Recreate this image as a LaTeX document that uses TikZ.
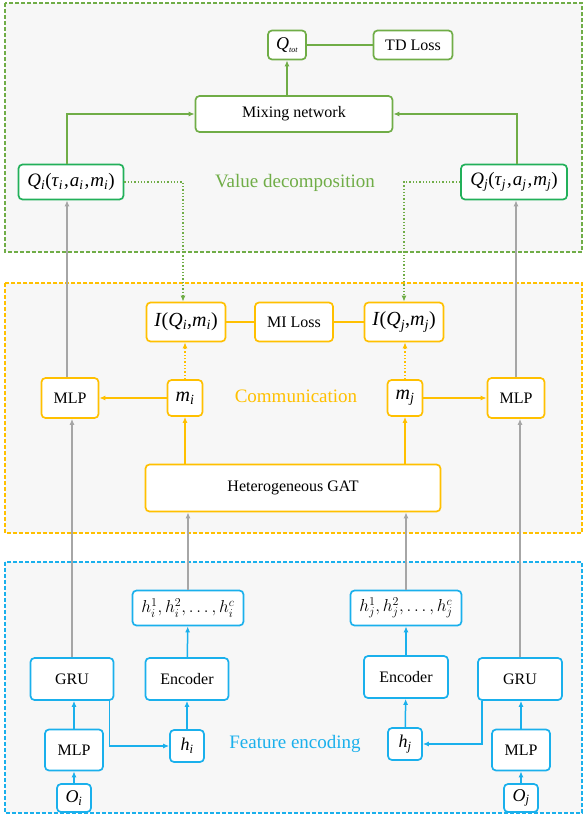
\documentclass[tikz,border=0pt]{standalone}
\usepackage{fontspec}
\setmainfont{Liberation Serif}
\usetikzlibrary{arrows.meta,calc}
\definecolor{cgreen}{HTML}{70AD47}
\definecolor{cqgreen}{HTML}{22B05A}
\definecolor{corange}{HTML}{FFC000}
\definecolor{cblue}{HTML}{1AB0EC}
\definecolor{cgray}{HTML}{A6A6A6}
\definecolor{cbg}{HTML}{F7F7F7}
\newcommand{\iv}[1]{\textit{#1}}
\newcommand{\isb}[1]{\textsubscript{\textit{#1}}}
\newcommand{\fs}[1]{\fontsize{#1}{#1}\selectfont}
\begin{document}
\begin{tikzpicture}[x=1pt,y=-1pt,
  box/.style={draw, rounded corners=4pt, line width=1.7pt, fill=white, inner sep=0pt,
    font=\fs{16}, align=center},
  mth/.style={font=\fs{20}},
  gbox/.style={box, draw=cgreen},
  qbox/.style={box, draw=cqgreen},
  obox/.style={box, draw=corange},
  bbox/.style={box, draw=cblue},
  region/.style={fill=cbg, line width=1.2pt, dash pattern=on 4pt off 2pt},
  rlabel/.style={font=\fs{19}},
  tip/.style={-{Latex[length=6pt,width=5pt]}},
  garr/.style={tip, draw=cgreen, line width=1.5pt},
  gline/.style={draw=cgreen, line width=1.5pt},
  gdot/.style={tip, draw=cgreen, line width=1.3pt, dotted},
  oarr/.style={tip, draw=corange, line width=1.5pt},
  oline/.style={draw=corange, line width=1.3pt},
  odot/.style={tip, draw=corange, line width=1.3pt, dotted},
  barr/.style={tip, draw=cblue, line width=1.5pt},
  grarr/.style={tip, draw=cgray, line width=1.5pt},
]
\useasboundingbox (0,0) rectangle (584,817);
% regions
\draw[region, draw=cgreen] (5,3) rectangle (582,252);
\draw[region, draw=corange] (5,283) rectangle (582,533);
\draw[region, draw=cblue] (5,562) rectangle (582,813);

% value decomposition
\node[gbox, minimum width=38, minimum height=29, font=\fs{18}] (qtot) at (287,45) {\iv{Q}\textsubscript{\fs{8}\itshape tot}};
\node[gbox, minimum width=79, minimum height=29] (td) at (413,45) {TD Loss};
\node[gbox, minimum width=197, minimum height=36] (mix) at (294,114) {Mixing network};
\node[qbox, minimum width=105, minimum height=35, font=\fs{19}] (qi) at (71,182) {\iv{Q}\isb{i}(\iv{τ}\isb{i}\kern1pt,\kern1pt\iv{a}\isb{i}\kern1pt,\kern1pt\iv{m}\isb{i})};
\node[qbox, minimum width=106, minimum height=35, font=\fs{19}] (qj) at (514,182) {\iv{Q}\isb{j}(\iv{τ}\isb{j}\kern1pt,\kern1pt\iv{a}\isb{j}\kern1pt,\kern1pt\iv{m}\isb{j})};
\node[rlabel, text=cgreen] (vd) at (295,183) {Value decomposition};

% communication
\node[obox, minimum width=79, minimum height=39, mth] (iqi) at (186,322) {\iv{I}(\iv{Q}\isb{i},\iv{m}\isb{i})};
\node[obox, minimum width=78, minimum height=39] (mil) at (294,322) {MI Loss};
\node[obox, minimum width=79, minimum height=39, mth] (iqj) at (404,322) {\iv{I}(\iv{Q}\isb{j},\iv{m}\isb{j})};
\node[obox, minimum width=57, minimum height=40] (mlpl) at (70,398) {MLP};
\node[obox, minimum width=35, minimum height=36, mth] (mi) at (185,398) {\iv{m}\isb{i}};
\node[rlabel, text=corange] (comm) at (296,396) {Communication};
\node[obox, minimum width=35, minimum height=36, mth] (mj) at (405,398) {\iv{m}\isb{j}};
\node[obox, minimum width=57, minimum height=40] (mlpr) at (516,398) {MLP};
\node[obox, minimum width=295, minimum height=47] (gat) at (293,488) {Heterogeneous GAT};

% feature encoding
\node[bbox, minimum width=111, minimum height=35, font=\fs{18}] (hsi) at (188,608) {$h_i^1,h_i^2,\ldots,h_i^c$};
\node[bbox, minimum width=111, minimum height=35, font=\fs{18}] (hsj) at (406,608) {$h_j^1,h_j^2,\ldots,h_j^c$};
\node[bbox, minimum width=83, minimum height=42] (grul) at (72,679) {GRU};
\node[bbox, minimum width=83, minimum height=42] (encl) at (187,679) {Encoder};
\node[bbox, minimum width=84, minimum height=42] (encr) at (406,677) {Encoder};
\node[bbox, minimum width=84, minimum height=42] (grur) at (520,679) {GRU};
\node[bbox, minimum width=58, minimum height=41] (mlpbl) at (74,750) {MLP};
\node[bbox, minimum width=34, minimum height=32, font=\fs{18}] (hi) at (187,746) {\iv{h}\isb{i}};
\node[rlabel, text=cblue] (fe) at (295,744) {Feature encoding};
\node[bbox, minimum width=34, minimum height=32, font=\fs{18}] (hj) at (405,744) {\iv{h}\isb{j}};
\node[bbox, minimum width=58, minimum height=41] (mlpbr) at (521,750) {MLP};
\node[bbox, minimum width=34, minimum height=28, font=\fs{18}] (oi) at (74,798) {\iv{O}\isb{i}};
\node[bbox, minimum width=34, minimum height=28, font=\fs{18}] (oj) at (521,798) {\iv{O}\isb{j}};

% green connectors
\draw[garr] ([xshift=-4pt]qi.north) |- (mix.west);
\draw[garr] ([xshift=3pt]qj.north) |- (mix.east);
\draw[garr] (qtot.south |- mix.north) -- (qtot.south);
\draw[gline] (qtot) -- (td);
\draw[gdot] (qi.east) -| ([xshift=-3pt]iqi.north);
\draw[gdot] (qj.west) -| (iqj.north);

% orange connectors
\draw[oline] (iqi) -- (mil);
\draw[oline] (mil) -- (iqj);
\draw[oarr] (mi) -- (mlpl);
\draw[oarr] (mj) -- (mlpr);
\draw[oarr] (mi.south |- gat.north) -- (mi.south);
\draw[oarr] (mj.south |- gat.north) -- (mj.south);
\draw[odot] (mi.north) -- (mi.north |- iqi.south);
\draw[odot] (mj.north) -- (mj.north |- iqj.south);

% gray connectors
\draw[grarr] ([xshift=-3pt]mlpl.north) -- ([xshift=-3pt]mlpl.north |- qi.south);
\draw[grarr] (mlpr.north) -- (mlpr.north |- qj.south);
\draw[grarr] (grul.north) -- (grul.north |- mlpl.south);
\draw[grarr] (grur.north) -- (grur.north |- mlpr.south);
\draw[grarr] (hsi.north) -- (hsi.north |- gat.south);
\draw[grarr] (hsj.north) -- (hsj.north |- gat.south);

% blue connectors
\draw[barr] (oi) -- (mlpbl);
\draw[barr] (oj) -- (mlpbr);
\draw[barr] (mlpbl.north) -- (mlpbl.north |- grul.south);
\draw[barr] (mlpbr.north) -- (mlpbr.north |- grur.south);
\draw[barr] ([xshift=-5pt]grul.south east) |- (hi.west);
\draw[barr] ([xshift=5pt]grur.south west) |- (hj.east);
\draw[barr] (hi) -- (encl);
\draw[barr] (hj) -- (encr);
\draw[barr] (encl) -- (hsi);
\draw[barr] (encr) -- (hsj);
\end{tikzpicture}
\end{document}
